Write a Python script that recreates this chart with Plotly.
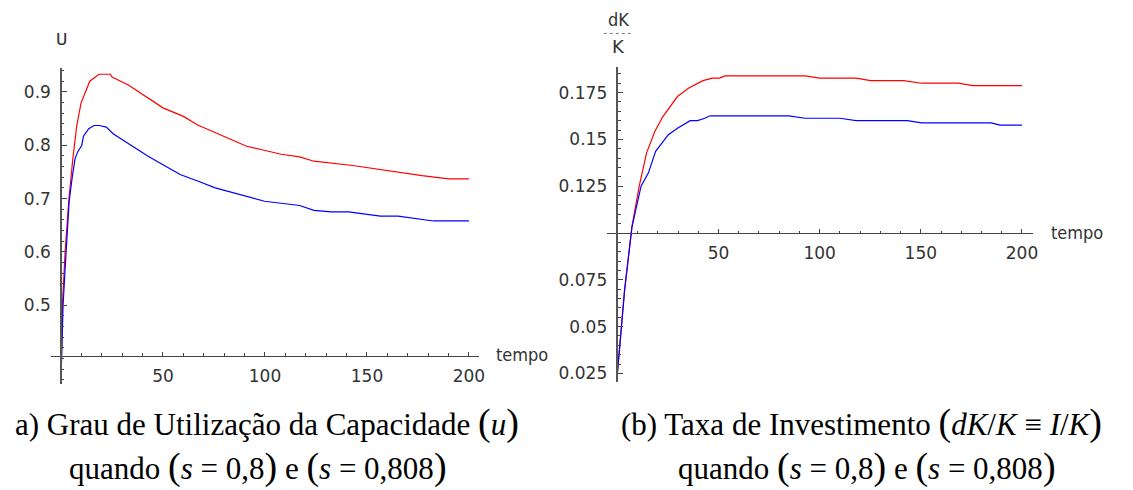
import plotly.graph_objects as go

# ---------------- data ----------------
# (a) capacity utilisation u
t_u_red = [0, 0.7, 2, 3.9, 5.8, 7.7, 9.8, 12.2, 14.1, 18.6, 24.2, 25, 33, 50, 60, 67, 91, 99, 108, 117, 124, 143, 160, 177, 190, 200]
u_red = [0.36, 0.50, 0.60, 0.70, 0.775, 0.836, 0.879, 0.904, 0.920, 0.933, 0.933, 0.928, 0.913, 0.870, 0.854, 0.838, 0.798, 0.791, 0.783, 0.778, 0.770, 0.762, 0.752, 0.743, 0.737, 0.737]

t_u_blue = [0, 1, 2.5, 4, 5.5, 6.9, 8.1, 10.2, 11, 13.6, 16.2, 18.8, 22.2, 25.7, 42.9, 58.4, 67, 75.6, 99.8, 117, 124, 132.5, 141, 156.6, 165.3, 182.5, 200]
u_blue = [0.36, 0.50, 0.60, 0.695, 0.74, 0.775, 0.787, 0.800, 0.817, 0.831, 0.837, 0.837, 0.834, 0.821, 0.779, 0.745, 0.733, 0.720, 0.695, 0.687, 0.678, 0.675, 0.675, 0.667, 0.667, 0.658, 0.658]

# (b) investment rate dK/K
t_k_red = [0, 3.6, 7.2, 10.8, 14.4, 18.5, 22.5, 29.7, 35.1, 42.3, 46.9, 50.5, 53.1, 92.8, 100, 118, 125.2, 141.5, 150.4, 168.5, 175.6, 200]
k_red = [0.025, 0.070, 0.1036, 0.125, 0.1427, 0.1542, 0.1622, 0.1729, 0.1773, 0.1814, 0.1827, 0.1827, 0.1839, 0.1839, 0.1827, 0.1827, 0.1814, 0.1814, 0.1800, 0.1800, 0.1787, 0.1787]

t_k_blue = [0, 3.6, 7.2, 11.7, 15.3, 18.9, 25.2, 29.7, 36, 39.6, 43.2, 45.9, 84.7, 92.8, 110, 118, 143.3, 150.4, 184.7, 189.2, 200]
k_blue = [0.025, 0.0698, 0.1030, 0.125, 0.132, 0.1436, 0.1525, 0.156, 0.160, 0.160, 0.1613, 0.1626, 0.1626, 0.1613, 0.1613, 0.160, 0.160, 0.1588, 0.1588, 0.1576, 0.1576]

x_major = [50, 100, 150, 200]
x_major_labels = ["50", "100", "150", "200"]
x_minor = [v for v in range(10, 201, 10) if v not in x_major]

u_major = [0.5, 0.6, 0.7, 0.8, 0.9]
u_major_labels = ["0.5", "0.6", "0.7", "0.8", "0.9"]
u_minor = [round(0.36 + 0.02 * i, 2) for i in range(30)]

k_major = [0.025, 0.05, 0.075, 0.125, 0.15, 0.175]
k_major_labels = ["0.025", "0.05", "0.075", "0.125", "0.15", "0.175"]
k_minor = [round(0.025 + 0.005 * i, 3) for i in range(33)]

# ---------------- layout helpers ----------------
W, H = 1133, 490
def px(x):
    return x / W
def py(y):
    return 1 - y / H

AXC = "#444444"
TICKFONT = dict(family="DejaVu Sans", size=17, color="#333333")

def xaxis_cfg(x0, x1, r, pos):
    return dict(domain=[px(x0), px(x1)], range=r, anchor="free", position=py(pos),
                showline=True, linecolor=AXC, linewidth=1, showgrid=False, zeroline=False,
                ticks="inside", ticklen=4, tickwidth=1, tickcolor=AXC,
                tickmode="array", tickvals=x_major, ticktext=x_major_labels,
                minor=dict(tickmode="array", tickvals=x_minor, ticks="inside", ticklen=2.5,
                           tickcolor=AXC, tickwidth=1, showgrid=False),
                tickfont=TICKFONT, ticklabelstandoff=5, fixedrange=True)

def yaxis_cfg(y_top, y_bot, r, pos, tv, tt, mv):
    return dict(domain=[py(y_bot), py(y_top)], range=r, anchor="free", position=px(pos),
                showline=True, linecolor="#555555", linewidth=1.5, showgrid=False, zeroline=False,
                ticks="inside", ticklen=5, tickwidth=1, tickcolor=AXC,
                tickmode="array", tickvals=tv, ticktext=tt,
                minor=dict(tickmode="array", tickvals=mv, ticks="inside", ticklen=2.5,
                           tickcolor=AXC, tickwidth=1, showgrid=False),
                tickfont=TICKFONT, ticklabelstandoff=6, fixedrange=True)

fig = go.Figure()
fig.add_trace(go.Scatter(x=t_u_red, y=u_red, mode="lines", line=dict(color="#ff0000", width=1.2),
                         xaxis="x", yaxis="y", showlegend=False))
fig.add_trace(go.Scatter(x=t_u_blue, y=u_blue, mode="lines", line=dict(color="#0000ff", width=1.2),
                         xaxis="x", yaxis="y", showlegend=False))
fig.add_trace(go.Scatter(x=t_k_red, y=k_red, mode="lines", line=dict(color="#ff0000", width=1.2),
                         xaxis="x2", yaxis="y2", showlegend=False))
fig.add_trace(go.Scatter(x=t_k_blue, y=k_blue, mode="lines", line=dict(color="#0000ff", width=1.2),
                         xaxis="x2", yaxis="y2", showlegend=False))

# left panel: x axis crosses at u = 0.405, y axis at t = 0
L_x0, L_x1, L_r = 51.7, 481.7, [-4.7, 205]
L_yt, L_yb, L_yr = 68, 385, [0.352, 0.945]
L_cross_u = 0.405
L_axis_y = L_yt + (L_yr[1] - L_cross_u) / (L_yr[1] - L_yr[0]) * (L_yb - L_yt)
L_axis_x = L_x0 + (0 - L_r[0]) / (L_r[1] - L_r[0]) * (L_x1 - L_x0)

# right panel: x axis crosses at dK/K = 0.1
R_x0, R_x1, R_r = 610.7, 1039, [-4.9, 205.7]
R_yt, R_yb, R_yr = 66.7, 383, [0.0203, 0.1889]
R_cross = 0.1
R_axis_y = R_yt + (R_yr[1] - R_cross) / (R_yr[1] - R_yr[0]) * (R_yb - R_yt)
R_axis_x = R_x0 + (0 - R_r[0]) / (R_r[1] - R_r[0]) * (R_x1 - R_x0)

fig.update_layout(
    width=W, height=H, autosize=False,
    margin=dict(l=0, r=0, t=0, b=0),
    paper_bgcolor="white", plot_bgcolor="white",
    xaxis=xaxis_cfg(L_x0, L_x1, L_r, L_axis_y),
    yaxis=yaxis_cfg(L_yt, L_yb, L_yr, L_axis_x, u_major, u_major_labels, u_minor),
    xaxis2=xaxis_cfg(R_x0, R_x1, R_r, R_axis_y),
    yaxis2=yaxis_cfg(R_yt, R_yb, R_yr, R_axis_x, k_major, k_major_labels, k_minor),
)

def ann(text, x, y, size, family, xanchor="center", yanchor="middle", color="#333333"):
    fig.add_annotation(text=text, x=px(x), y=py(y), xref="paper", yref="paper",
                       showarrow=False, xanchor=xanchor, yanchor=yanchor,
                       font=dict(family=family, size=size, color=color))

ann("U", 62, 40, 19, "Liberation Mono")
ann("tempo", L_x1 + 15, L_axis_y - 1, 18, "DejaVu Sans Condensed, DejaVu Sans", xanchor="left")
ann("tempo", R_x1 + 16, R_axis_y - 1, 18, "DejaVu Sans Condensed, DejaVu Sans", xanchor="left")
ann("dK", 622, 20, 18, "DejaVu Sans Condensed, DejaVu Sans")
ann("K", 622, 47, 18, "DejaVu Sans")
fig.add_shape(type="line", xref="paper", yref="paper", x0=px(607), x1=px(636), y0=py(33.5), y1=py(33.5),
              line=dict(color="#777777", width=1, dash="dot"))

def bp(c):
    return '<span style="font-size:38px">' + c + '</span>'

CAP = "Liberation Serif"
ann("a) Grau de Utilização da Capacidade " + bp("(") + "<i>u</i>" + bp(")"), 268, 423, 31, CAP, color="black")
ann("quando " + bp("(") + "<i>s</i> = 0,8" + bp(")") + " e " + bp("(") + "<i>s</i> = 0,808" + bp(")"),
    259, 467, 31, CAP, color="black")
ann("(b) Taxa de Investimento " + bp("(") + "<i>dK</i>/<i>K</i> ≡ <i>I</i>/<i>K</i>" + bp(")"), 866, 423, 31, CAP, color="black")
ann("quando " + bp("(") + "<i>s</i> = 0,8" + bp(")") + " e " + bp("(") + "<i>s</i> = 0,808" + bp(")"),
    872, 467, 31, CAP, color="black")

fig.write_html("out.html")
